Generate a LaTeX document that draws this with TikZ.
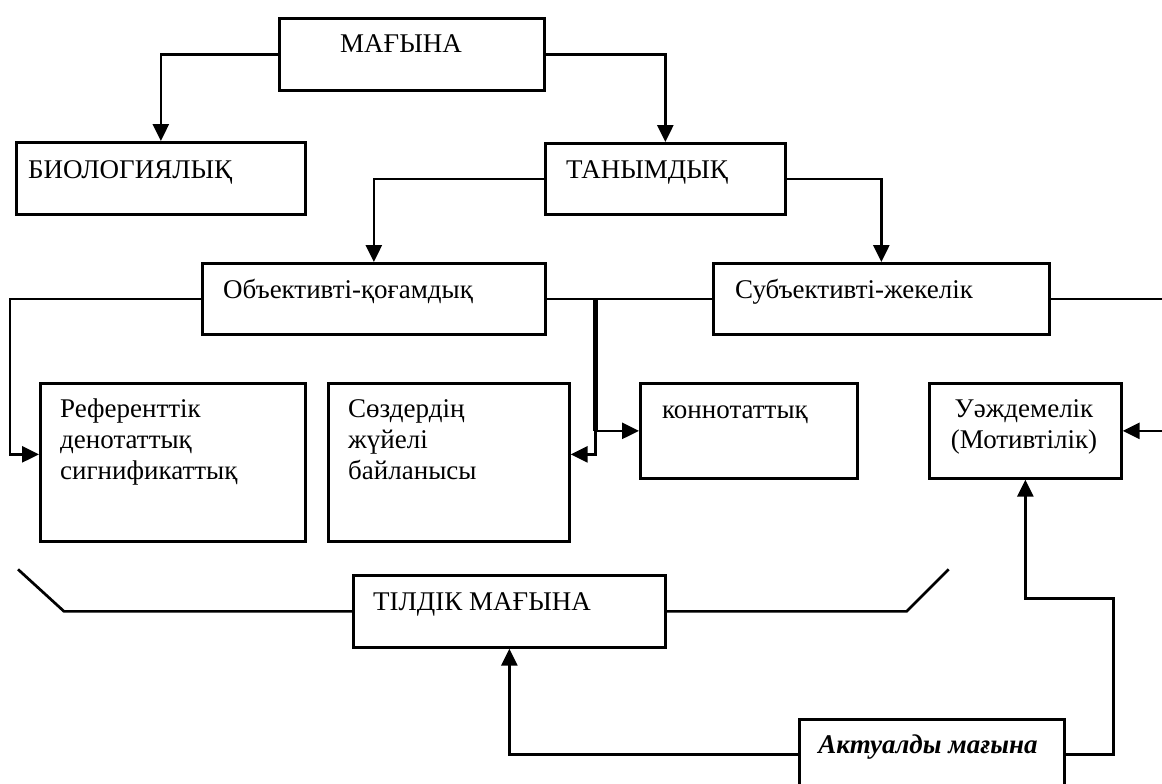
\documentclass[tikz,border=0pt]{standalone}
\usepackage{fontspec}
\setmainfont{Liberation Serif}
\usetikzlibrary{arrows.meta, positioning, calc}

\begin{document}
\begin{tikzpicture}[x=1pt, y=-1pt,
    box/.style={draw, line width=2.7pt, inner sep=0pt, anchor=north west},
    lbl/.style={font=\fontsize{27}{31}\selectfont, inner sep=0pt, anchor=base west, align=left},
    link/.style={line width=2.7pt},
    arr/.style={link, -{Triangle[length=17pt, width=16pt]}},
]
  \useasboundingbox (0,0) rectangle (1162,784);
  \clip (0,0) rectangle (1162,784);

  % boxes
  \node[box, minimum width=265pt, minimum height=72pt] (magyna) at (278,17) {};
  \node[box, minimum width=289pt, minimum height=72pt] (biol) at (15,141) {};
  \node[box, minimum width=240pt, minimum height=71pt] (tanym) at (544,142) {};
  \node[box, minimum width=343pt, minimum height=71pt] (obj) at (201,262) {};
  \node[box, minimum width=336pt, minimum height=71pt] (subj) at (712,262) {};
  \node[box, minimum width=265pt, minimum height=158pt] (ref) at (39,382) {};
  \node[box, minimum width=241pt, minimum height=158pt] (soz) at (327,382) {};
  \node[box, minimum width=217pt, minimum height=95pt] (konn) at (639,382) {};
  \node[box, minimum width=192pt, minimum height=95pt] (uazh) at (928,382) {};
  \node[box, minimum width=312pt, minimum height=72pt] (tildik) at (352,574) {};
  \node[box, minimum width=265pt, minimum height=70pt] (aktual) at (798,718) {};

  % texts (multi-line ones sit on their last baseline)
  \node[lbl] (lmagyna) at (340,53) {МАҒЫНА};
  \node[lbl] (lbiol) at (28,178) {БИОЛОГИЯЛЫҚ};
  \node[lbl] (ltanym) at (566,178) {ТАНЫМДЫҚ};
  \node[lbl] (lobj) at (223,298) {Объективті-қоғамдық};
  \node[lbl] (lsubj) at (735,298) {Субъективті-жекелік};
  \node[lbl] (lref) at (60,479) {Референттік\\денотаттық\\сигнификаттық};
  \node[lbl] (lsoz) at (348,479) {Сөздердің\\жүйелі\\байланысы};
  \node[lbl] (lkonn) at (662,418) {коннотаттық};
  \node[lbl, anchor=base, align=center] (luazh) at (1024,448) {Уәждемелік\\(Мотивтілік)};
  \node[lbl] (ltildik) at (373,610) {ТІЛДІК МАҒЫНА};
  \node[lbl, anchor=base, font=\fontsize{27}{31}\selectfont\bfseries\itshape] (laktual) at (928,753) {Актуалды мағына};

  % connectors
  \draw[arr] (magyna.west) -| (biol.north);
  \draw[arr] (magyna.east) -| (tanym.north);
  \draw[arr] (tanym.west) -| (obj.north);
  \draw[arr] (tanym.east) -| (subj.north);

  \draw[link] (obj.east) -- (subj.west);
  \draw[link] (subj.east) -- (subj.east -| 1162,0);
  \draw[arr] (obj.west) -| ($(ref.west)+(-29,-8)$) -- ($(ref.west)+(0,-8)$);

  \coordinate (fork) at ($(obj.east)+(49,0)$);
  \coordinate (branch) at (fork |- konn.west);
  \draw[line width=4.5pt] (fork) -- (branch);
  \draw[arr] (branch) -- (konn.west);
  \draw[arr] (branch) |- ($(soz.east)+(0,-8)$);

  \draw[arr] (uazh.east -| 1162,0) -- (uazh.east);

  \draw[link] (tildik.west) -- ++(-288,0) -- ++(-46,-42);
  \draw[link] (tildik.east) -- ++(240,0) -- ++(42,-42);

  \draw[arr] (aktual.west) -| (tildik.south);
  \draw[arr] (aktual.east) -| ($(aktual.east)+(48,-156)$) -| (uazh.south);
\end{tikzpicture}
\end{document}
